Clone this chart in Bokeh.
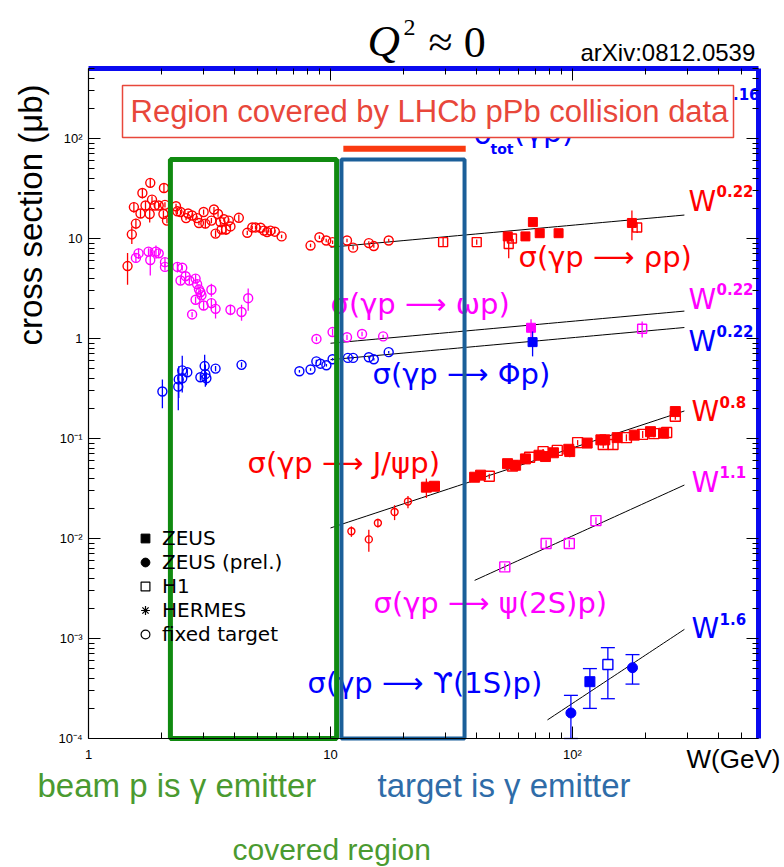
import math
from bokeh.plotting import figure
from bokeh.models import (LogAxis, Legend, LegendItem, Range1d,
                          CustomJSTickFormatter, FixedTicker)
from bokeh.embed import file_html
from bokeh.resources import INLINE
from bokeh.core.properties import value

# ---------------- data ----------------
# rho photoproduction
rho_ft_W = [1.45, 1.51, 1.54, 1.57, 1.64, 1.67, 1.72, 1.79, 1.80, 1.83,
            1.88, 1.95, 2.04, 2.05, 2.07, 2.11, 2.30, 2.33, 2.40, 2.53,
            2.58, 2.68, 2.81, 2.86, 2.99, 3.04, 3.22, 3.30, 3.35, 3.43,
            3.51, 3.55, 3.63, 3.70, 3.80, 3.86, 4.18, 4.53, 4.75, 4.90,
            5.14, 5.31, 5.47, 5.65, 5.89, 6.28, 8.27, 9.0, 9.6, 10.2,
            11.7, 12.4, 14.4, 15.1, 17.4]
rho_ft_S = [5.3, 11.0, 20.6, 14.1, 17.8, 28.5, 21.4, 17.6, 36.0, 24.5,
            21.4, 21.4, 17.6, 32.0, 21.7, 15.1, 21.0, 18.7, 18.4, 16.0,
            17.8, 17.0, 16.0, 14.3, 18.4, 14.1, 15.1, 19.5, 11.2, 17.6,
            14.6, 12.3, 15.6, 12.3, 15.1, 13.2, 16.1, 11.4, 12.9, 12.9,
            12.8, 12.0, 11.6, 12.0, 11.7, 10.5, 8.5, 10.3, 9.55, 9.2,
            9.55, 8.1, 9.0, 8.4, 9.55]
rho_ft_err = [0.35, 0.2, 0.12, 0.12, 0.1, 0.12, 0.1, 0.18, 0.1, 0.08,
              0.06, 0.06, 0.08, 0.1, 0.06, 0.06, 0.06, 0.06, 0.05, 0.05,
              0.05, 0.05, 0.05, 0.05, 0.06, 0.1, 0.06, 0.06, 0.08, 0.06,
              0.06, 0.1, 0.05, 0.12, 0.05, 0.05, 0.08, 0.05, 0.04, 0.04,
              0.04, 0.04, 0.04, 0.04, 0.04, 0.04, 0.04, 0.04, 0.04, 0.04,
              0.04, 0.04, 0.04, 0.04, 0.04]
rho_zeus_W = [54.0, 63.9, 68.6, 73.2, 87.6, 176.0]
rho_zeus_S = [10.5, 10.5, 14.6, 11.3, 11.3, 14.3]
rho_zeus_err = [0.06, 0.06, 0.08, 0.06, 0.06, 0.33]
rho_h1_W = [29.2, 40.2, 54.5, 56.2, 185.0]
rho_h1_S = [9.2, 9.2, 8.8, 10.0, 12.9]
rho_h1_err = [0.1, 0.06, 0.28, 0.08, 0.12]

# omega photoproduction
omega_ft_W = [1.57, 1.61, 1.77, 1.80, 1.90, 1.95, 2.07, 2.07, 2.33, 2.40,
              2.44, 2.52, 2.61, 2.68, 2.77, 2.77, 2.81, 2.86, 2.90, 2.93,
              2.99, 3.22, 3.22, 3.35, 3.86, 4.29, 4.57, 8.75, 10.2, 11.7,
              13.5, 16.5]
omega_ft_S = [6.4, 7.1, 7.4, 6.1, 7.4, 7.1, 5.8, 5.2, 5.2, 3.8,
              5.1, 4.2, 3.8, 1.74, 3.97, 2.44, 3.5, 3.1, 2.9, 2.7,
              2.14, 3.07, 2.26, 1.98, 1.94, 1.84, 2.53, 0.99, 1.16, 1.03,
              1.11, 1.05]
omega_ft_err = [0.1, 0.12, 0.08, 0.3, 0.15, 0.1, 0.1, 0.08, 0.12, 0.08,
                0.06, 0.1, 0.08, 0.06, 0.1, 0.08, 0.1, 0.12, 0.08, 0.08,
                0.1, 0.15, 0.12, 0.2, 0.12, 0.18, 0.25, 0.05, 0.08, 0.06,
                0.05, 0.04]
omega_zeus_W = [67.4]
omega_zeus_S = [1.28]
omega_zeus_err = [0.22]
omega_h1_W = [194.0]
omega_h1_S = [1.25]
omega_h1_err = [0.18]

# phi photoproduction
phi_ft_W = [2.02, 2.35, 2.36, 2.44, 2.44, 2.56, 2.90, 3.02, 3.04, 3.07,
            3.35, 4.29, 7.44, 8.27, 8.74, 9.09, 9.62, 10.2, 11.8, 12.4,
            14.4, 15.1, 17.4]
phi_ft_S = [0.295, 0.33, 0.39, 0.40, 0.48, 0.46, 0.41, 0.53, 0.44, 0.40,
            0.50, 0.545, 0.47, 0.49, 0.59, 0.56, 0.54, 0.62, 0.64, 0.64,
            0.65, 0.62, 0.73]
phi_ft_err = [0.32, 0.42, 0.35, 0.15, 0.4, 0.08, 0.08, 0.3, 0.25, 0.15,
              0.06, 0.06, 0.03, 0.03, 0.04, 0.03, 0.03, 0.03, 0.03, 0.03,
              0.03, 0.03, 0.03]
phi_zeus_W = [68.4]
phi_zeus_S = [0.92]
phi_zeus_err = [0.28]

# J/psi photoproduction
jpsi_ft_W = [12.2, 14.4, 15.7, 18.4, 20.9]
jpsi_ft_S = [0.0118, 0.0098, 0.0143, 0.0184, 0.0234]
jpsi_ft_err = [0.12, 0.25, 0.1, 0.17, 0.14]
jpsi_zeus_W = [24.9, 26.9, 39.4, 41.7, 53.9, 58.2, 63.9, 72.7, 77.3, 83.4,
               96.5, 97.4, 115.0, 131.0, 136.0, 153.0, 180.0, 210.0, 238.0, 266.0]
jpsi_zeus_S = [0.0326, 0.0333, 0.041, 0.043, 0.056, 0.054, 0.0625, 0.068, 0.066, 0.072,
               0.078, 0.074, 0.090, 0.097, 0.097, 0.102, 0.108, 0.117, 0.113, 0.186]
jpsi_zeus_err = [0.22, 0.08, 0.06, 0.06, 0.06, 0.06, 0.06, 0.06, 0.06, 0.06,
                 0.06, 0.12, 0.06, 0.06, 0.06, 0.06, 0.06, 0.06, 0.06, 0.08]
jpsi_h1_W = [45.3, 56.5, 66.5, 75.6, 86.5, 105.0, 134.0, 147.0, 167.0, 195.0,
             217.0, 245.0, 266.0]
jpsi_h1_S = [0.042, 0.053, 0.065, 0.074, 0.076, 0.091, 0.087, 0.087, 0.102, 0.110,
             0.112, 0.115, 0.167]
jpsi_h1_err = [0.06, 0.06, 0.06, 0.06, 0.06, 0.06, 0.08, 0.1, 0.08, 0.08,
               0.08, 0.1, 0.08]

# psi(2S) photoproduction (H1)
psi2s_h1_W = [52.5, 77.8, 97.0, 125.0]
psi2s_h1_S = [0.0052, 0.0089, 0.0089, 0.0151]
psi2s_h1_err = [0.08, 0.08, 0.08, 0.08]

# Upsilon(1S) photoproduction
ups_zeusprel_W = [98.5, 177.0]
ups_zeusprel_S = [1.8e-4, 5.1e-4]
ups_zeusprel_lo = [1.0e-4, 3.5e-4]
ups_zeusprel_hi = [2.7e-4, 6.9e-4]
ups_zeus_W = [118.0]
ups_zeus_S = [3.7e-4]
ups_zeus_lo = [2.0e-4]
ups_zeus_hi = [5.0e-4]
ups_h1_W = [140.0]
ups_h1_S = [5.5e-4]
ups_h1_lo = [2.5e-4]
ups_h1_hi = [8.1e-4]

# power-law fits  sigma = A * W^delta
fit_names = ["rho", "omega", "phi", "jpsi", "psi2s", "ups"]
fit_norm = [4.93, 0.54, 0.37, 0.00202, 6.7e-5, 1.417e-7]
fit_delta = [0.22, 0.22, 0.22, 0.8, 1.1, 1.6]
fit_wmin = [10.0, 10.0, 10.0, 10.0, 39.4, 78.8]
fit_wmax = [290.0, 290.0, 290.0, 290.0, 290.0, 290.0]

# covered regions
beam_region_W = [2.18, 10.6]
target_region_W = [11.1, 35.8]
region_top_S = 61.7
lhcb_bar_W = [11.3, 36.2]
lhcb_bar_S = 79.0

# ---------------- geometry ----------------
CW, CH = 784, 867           # canvas (= plotting frame)
FL, FB = 88, 738            # axes corner in page pixels
DEC_X, DEC_Y = 242.0, 100.0
W_MIN, W_MAX = 1.0, 10 ** (670 / DEC_X)
S_MIN, S_MAX = 1e-4, 10 ** 2.7

# tick values
x_major = [1.0, 10.0, 100.0]
x_minor = [m * 10.0 ** e for e in range(0, 3) for m in range(2, 10) if m * 10.0 ** e <= W_MAX]
y_major = [10.0 ** e for e in range(-4, 3)]
y_minor = [m * 10.0 ** e for e in range(-4, 3) for m in range(2, 10) if m * 10.0 ** e <= S_MAX]


def Wp(px):
    return 10 ** ((px - FL) / DEC_X)


def Sp(py):
    return 10 ** (-4 + (FB - py) / DEC_Y)


RED, MAG, BLU = "#ff0000", "#ff00ff", "#0000ff"

p = figure(width=CW, height=CH, x_axis_type="log", y_axis_type="log",
           x_range=Range1d(Wp(0), Wp(CW)), y_range=Range1d(Sp(CH), Sp(0)),
           min_border=0, output_backend="svg", toolbar_location=None)
p.grid.visible = False
p.outline_line_color = None
p.background_fill_color = "white"
p.border_fill_color = "white"

fmt = CustomJSTickFormatter(code="""
const e = Math.round(Math.log10(tick));
if (e == 0) return "1";
if (e == 1) return "10";
const sup = {"-":"\\u207b","0":"\\u2070","1":"\\u00b9","2":"\\u00b2","3":"\\u00b3","4":"\\u2074","5":"\\u2075"};
return "10" + String(e).split("").map(c => sup[c]).join("");
""")
blank = CustomJSTickFormatter(code='return "";')

xa = p.xaxis[0]
ya = p.yaxis[0]
xa.ticker = FixedTicker(ticks=x_major, minor_ticks=x_minor)
ya.ticker = FixedTicker(ticks=y_major, minor_ticks=y_minor)
xa.formatter = fmt
ya.formatter = fmt
xa.fixed_location = S_MIN
ya.fixed_location = W_MIN
xa.bounds = (W_MIN, W_MAX)
ya.bounds = (S_MIN, S_MAX)

top_ax = LogAxis(ticker=FixedTicker(ticks=x_major, minor_ticks=x_minor), formatter=blank,
                 fixed_location=S_MAX, bounds=(W_MIN, W_MAX))
right_ax = LogAxis(ticker=FixedTicker(ticks=y_major, minor_ticks=y_minor), formatter=blank,
                   fixed_location=W_MAX, bounds=(S_MIN, S_MAX))
p.add_layout(top_ax, "above")
p.add_layout(right_ax, "right")

for ax in [xa, ya, top_ax, right_ax]:
    ax.major_tick_in = 12
    ax.major_tick_out = 0
    ax.minor_tick_in = 6
    ax.minor_tick_out = 0
    ax.major_tick_line_color = "black"
    ax.minor_tick_line_color = "black"
    ax.major_label_text_font = "Liberation Sans"
    ax.major_label_text_color = "black"
    ax.major_label_text_font_size = "13px"
for ax in [xa, ya]:
    ax.axis_line_color = "black"
    ax.axis_line_width = 1.2
xa.major_label_standoff = 8
ya.major_label_standoff = 6
for ax in [top_ax, right_ax]:
    ax.axis_line_color = "#0a0af0"
    ax.axis_line_width = 5
    ax.major_label_standoff = 0

# ---------------- fits ----------------
for A, d, w0, w1 in zip(fit_norm, fit_delta, fit_wmin, fit_wmax):
    n = 40
    ws = [w0 * (w1 / w0) ** (i / (n - 1)) for i in range(n)]
    p.line(ws, [A * w ** d for w in ws], line_color="black", line_width=1)


# ---------------- data ----------------
def errbars(W, S, e, color, w=1.3):
    p.segment(x0=W, y0=[s * (1 - x) for s, x in zip(S, e)],
              x1=W, y1=[s * (1 + x) for s, x in zip(S, e)],
              line_color=color, line_width=w)


def pts(W, S, color, marker, filled, size):
    if filled:
        p.scatter(W, S, marker=marker, size=size, fill_color=color,
                  line_color=color, line_width=1)
    else:
        p.scatter(W, S, marker=marker, size=size, fill_color=None,
                  line_color=color, line_width=1.4)


errbars(rho_ft_W, rho_ft_S, rho_ft_err, RED)
pts(rho_ft_W, rho_ft_S, RED, "circle", False, 9)
errbars(rho_h1_W, rho_h1_S, rho_h1_err, RED)
pts(rho_h1_W, rho_h1_S, RED, "square", False, 9)
errbars(rho_zeus_W, rho_zeus_S, rho_zeus_err, RED)
pts(rho_zeus_W, rho_zeus_S, RED, "square", True, 9)

errbars(omega_ft_W, omega_ft_S, omega_ft_err, MAG)
pts(omega_ft_W, omega_ft_S, MAG, "circle", False, 9)
errbars(omega_zeus_W, omega_zeus_S, omega_zeus_err, MAG)
pts(omega_zeus_W, omega_zeus_S, MAG, "square", True, 9)
errbars(omega_h1_W, omega_h1_S, omega_h1_err, MAG)
pts(omega_h1_W, omega_h1_S, MAG, "square", False, 9)

errbars(phi_ft_W, phi_ft_S, phi_ft_err, BLU)
pts(phi_ft_W, phi_ft_S, BLU, "circle", False, 9)
errbars(phi_zeus_W, phi_zeus_S, phi_zeus_err, BLU)
pts(phi_zeus_W, phi_zeus_S, BLU, "square", True, 9)

errbars(jpsi_ft_W, jpsi_ft_S, jpsi_ft_err, RED)
pts(jpsi_ft_W, jpsi_ft_S, RED, "circle", False, 7)
errbars(jpsi_h1_W, jpsi_h1_S, jpsi_h1_err, RED)
pts(jpsi_h1_W, jpsi_h1_S, RED, "square", False, 10)
errbars(jpsi_zeus_W, jpsi_zeus_S, jpsi_zeus_err, RED)
pts(jpsi_zeus_W, jpsi_zeus_S, RED, "square", True, 10)

errbars(psi2s_h1_W, psi2s_h1_S, psi2s_h1_err, MAG)
pts(psi2s_h1_W, psi2s_h1_S, MAG, "square", False, 10)

cap = 10 ** (7 / DEC_X)
for W, S, lo, hi, mk, fl in [(ups_zeusprel_W, ups_zeusprel_S, ups_zeusprel_lo, ups_zeusprel_hi, "circle", True),
                             (ups_zeus_W, ups_zeus_S, ups_zeus_lo, ups_zeus_hi, "square", True),
                             (ups_h1_W, ups_h1_S, ups_h1_lo, ups_h1_hi, "square", False)]:
    p.segment(x0=W, y0=lo, x1=W, y1=hi, line_color=BLU, line_width=1.3)
    p.segment(x0=[w / cap for w in W], y0=hi, x1=[w * cap for w in W], y1=hi,
              line_color=BLU, line_width=1.3)
    p.segment(x0=[w / cap for w in W], y0=lo, x1=[w * cap for w in W], y1=lo,
              line_color=BLU, line_width=1.3)
    if fl:
        p.scatter(W, S, marker=mk, size=10, fill_color=BLU, line_color=BLU)
    else:
        p.scatter(W, S, marker=mk, size=10, fill_color="white", line_color=BLU, line_width=1.4)

# ---------------- texts ----------------
SANS = "DejaVu Sans"


def txt(px, py, s, color, size, style="normal", font=SANS, align="left", angle=0.0):
    p.text(x=[Wp(px)], y=[Sp(py)], text=[s], text_color=color,
           text_font=value(font), text_font_size=size, text_font_style=style,
           text_baseline="middle", text_align=align, angle=angle)


reactions = [
    (518, 256, "σ(γp ⟶ ρp)", RED),
    (330, 303, "σ(γp ⟶ ωp)", MAG),
    (372, 373, "σ(γp ⟶ Φp)", BLU),
    (247, 462, "σ(γp ⟶ J/ψp)", RED),
    (373, 602, "σ(γp ⟶ ψ(2S)p)", MAG),
    (307, 682, "σ(γp ⟶ ϒ(1S)p)", BLU),
]
for px, py, s, c in reactions:
    txt(px, py, s, c, "29px")

powers = [
    (688, 201, 190, "0.22", RED),
    (688, 299, 288, "0.22", MAG),
    (688, 341, 330, "0.22", BLU),
    (691, 411, 401, "0.8", RED),
    (691, 482, 471, "1.1", MAG),
    (691, 628, 618, "1.6", BLU),
]
for px, py, py2, s, c in powers:
    txt(px, py, "W", c, "28px")
    txt(px + 28, py2, s, c, "15px", "bold")

# partially hidden sigma_tot label (under the box)
txt(473, 133, "σ", BLU, "30px")
txt(490, 148, "tot", BLU, "14px", "bold")
txt(513, 131, "(γp)", BLU, "30px")
txt(694, 106, "W", BLU, "28px")
txt(722, 93, "0.16", BLU, "15px", "bold")

# ---------------- covered regions ----------------
p.quad(left=[beam_region_W[0]], right=[beam_region_W[1]], bottom=[S_MIN], top=[region_top_S],
       fill_alpha=0, line_color="#108a10", line_width=5)
p.quad(left=[target_region_W[0]], right=[target_region_W[1]], bottom=[S_MIN], top=[region_top_S],
       fill_alpha=0, line_color="#1b5f99", line_width=4)
p.segment(x0=[lhcb_bar_W[0]], y0=[lhcb_bar_S], x1=[lhcb_bar_W[1]], y1=[lhcb_bar_S],
          line_color="#fa3a10", line_width=6)

# headline box
p.quad(left=[Wp(122)], right=[Wp(733)], bottom=[Sp(137)], top=[Sp(85)],
       fill_color="white", line_color="#e8473b", line_width=1.5)
txt(130, 111, "Region covered by LHCb pPb collision data", "#e8473b", "31px", font="Liberation Sans")

# titles and axis titles
txt(367, 40, "Q", "black", "45px", style="italic", font="Liberation Serif")
txt(403, 27, "2", "black", "24px", font="Liberation Serif")
txt(428, 42, "≈ 0", "black", "44px", font="Liberation Serif")
txt(580, 52, "arXiv:0812.0539", "black", "24px", font="Liberation Sans")
txt(30, 84, "cross section (μb)", "black", "33px", font="Liberation Sans",
    align="right", angle=math.pi / 2)
txt(686, 758, "W(GeV)", "black", "26px", font="Liberation Sans")
txt(37, 785, "beam p is γ emitter", "#4a9a30", "33px", font="Liberation Sans")
txt(377, 785, "target is γ emitter", "#2f6ca8", "33px", font="Liberation Sans")
txt(232, 849, "covered region", "#4a9a30", "30px", font="Liberation Sans")

# ---------------- legend ----------------
nan = float("nan")
r_zeus = p.scatter([nan], [nan], marker="square", size=9, fill_color="black", line_color="black")
r_zprel = p.scatter([nan], [nan], marker="circle", size=9, fill_color="black", line_color="black")
r_h1 = p.scatter([nan], [nan], marker="square", size=9, fill_color=None, line_color="black", line_width=1.2)
r_herm = p.scatter([nan], [nan], marker="asterisk", size=9, line_color="black", line_width=1.2)
r_ft = p.scatter([nan], [nan], marker="circle", size=9, fill_color=None, line_color="black", line_width=1.2)
leg = Legend(items=[LegendItem(label="ZEUS", renderers=[r_zeus]),
                    LegendItem(label="ZEUS (prel.)", renderers=[r_zprel]),
                    LegendItem(label="H1", renderers=[r_h1]),
                    LegendItem(label="HERMES", renderers=[r_herm]),
                    LegendItem(label="fixed target", renderers=[r_ft])],
             location=(134, CH - 646), padding=0, margin=0, spacing=0,
             glyph_width=22, glyph_height=22, label_standoff=6,
             label_text_font="DejaVu Sans", label_text_font_size="20px",
             label_text_color="black",
             border_line_alpha=0, background_fill_alpha=0)
p.add_layout(leg, "center")

open("out.html", "w").write(file_html(p, INLINE))
